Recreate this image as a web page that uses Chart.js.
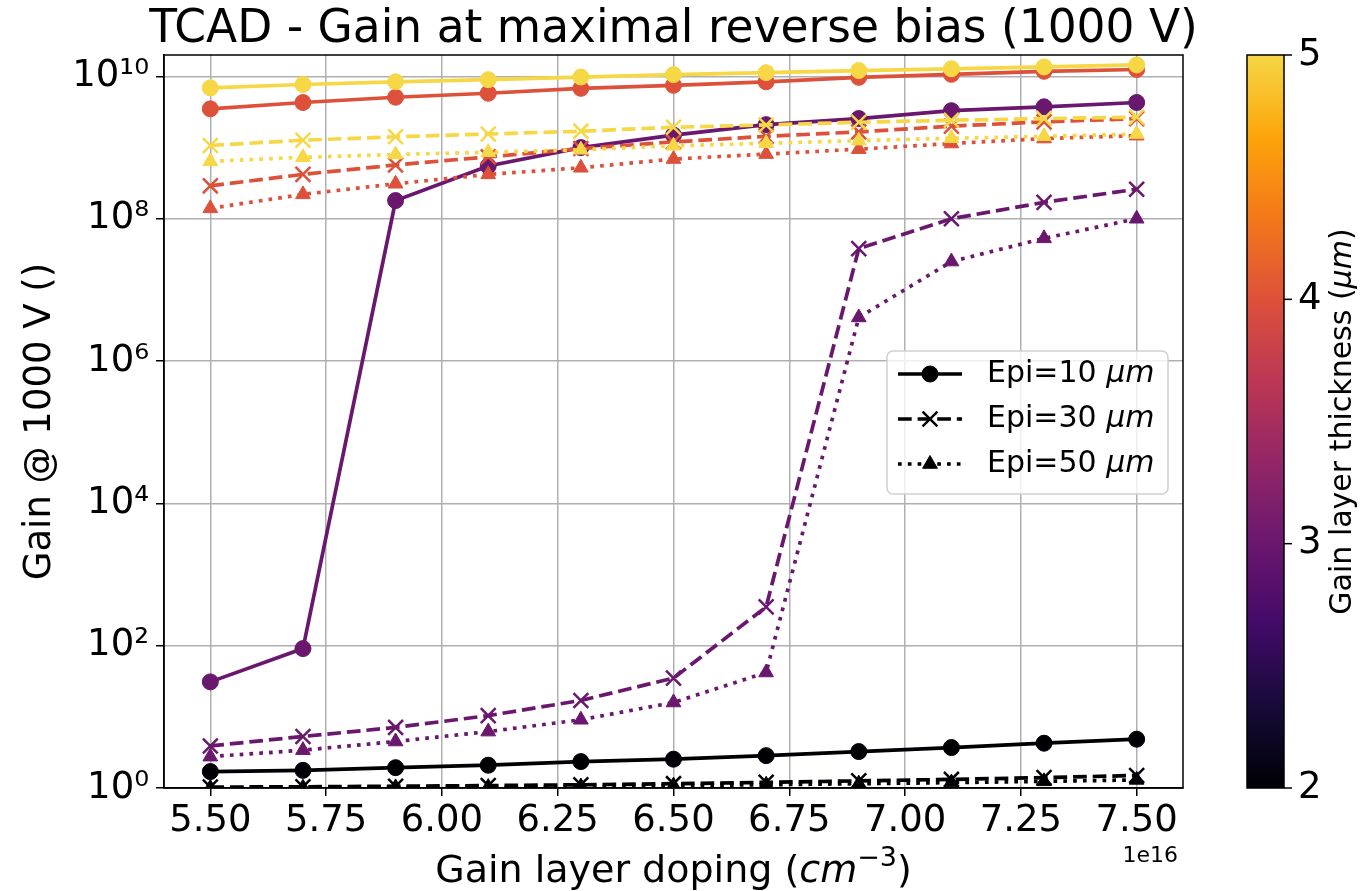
<!DOCTYPE html>
<html>
<head>
<meta charset="utf-8">
<script src="https://cdn.jsdelivr.net/npm/chart.js@4.4.1/dist/chart.umd.min.js"></script>
<style>
  html, body { margin: 0; padding: 0; background: #fff; }
</style>
</head>
<body>
<canvas id="gainChart" width="1371" height="891"></canvas>
<script>
// gain layer doping (cm^-3)
const doping = [5.5e16, 5.7e16, 5.9e16, 6.1e16, 6.3e16, 6.5e16, 6.7e16, 6.9e16, 7.1e16, 7.3e16, 7.5e16];
const xTickValues = [5.5e16, 5.75e16, 6.0e16, 6.25e16, 6.5e16, 6.75e16, 7.0e16, 7.25e16, 7.5e16];
const yTickValues = [1, 1e2, 1e4, 1e6, 1e8, 1e10];
const thicknessTicks = [2, 3, 4, 5];
const epiLegend = ['Epi=10', 'Epi=30', 'Epi=50'];

// gain @ 1000 V, per gain layer thickness (um) and epi thickness (um)
const gainT2Epi10 = [1.70, 1.77, 1.93, 2.09, 2.35, 2.54, 2.85, 3.25, 3.70, 4.26, 4.85];
const gainT2Epi30 = [1.03, 1.04, 1.06, 1.08, 1.11, 1.15, 1.20, 1.26, 1.32, 1.40, 1.50];
const gainT2Epi50 = [1.00, 1.01, 1.02, 1.03, 1.05, 1.08, 1.11, 1.15, 1.19, 1.24, 1.30];

const gainT3Epi10 = [31, 91, 1.8e8, 5.5e8, 1.0e9, 1.5e9, 2.1e9, 2.56e9, 3.3e9, 3.74e9, 4.3e9];
const gainT3Epi30 = [3.9, 5.3, 7.1, 10.4, 17, 35, 351, 3.8e7, 1.0e8, 1.7e8, 2.6e8];
const gainT3Epi50 = [2.76, 3.4, 4.5, 6.2, 9.1, 15.9, 42, 4.1e6, 2.5e7, 5.3e7, 1.0e8];

const gainT4Epi10 = [3.5e9, 4.3e9, 5.1e9, 5.8e9, 6.8e9, 7.5e9, 8.4e9, 9.7e9, 1.07e10, 1.18e10, 1.25e10];
const gainT4Epi30 = [2.9e8, 4.2e8, 5.7e8, 7.4e8, 9.7e8, 1.2e9, 1.44e9, 1.66e9, 2.0e9, 2.3e9, 2.55e9];
const gainT4Epi50 = [1.4e8, 2.2e8, 3.1e8, 4.2e8, 5.2e8, 6.9e8, 8.1e8, 9.5e8, 1.14e9, 1.34e9, 1.47e9];

const gainT5Epi10 = [6.9e9, 7.7e9, 8.4e9, 9.0e9, 9.8e9, 1.06e10, 1.13e10, 1.21e10, 1.28e10, 1.36e10, 1.45e10];
const gainT5Epi30 = [1.07e9, 1.27e9, 1.42e9, 1.55e9, 1.70e9, 1.93e9, 2.08e9, 2.27e9, 2.42e9, 2.55e9, 2.68e9];
const gainT5Epi50 = [6.4e8, 7.3e8, 8.0e8, 8.6e8, 9.3e8, 1.06e9, 1.15e9, 1.25e9, 1.35e9, 1.44e9, 1.55e9];

const series = [
  { thickness: 2, epi: 10, values: gainT2Epi10 },
  { thickness: 2, epi: 30, values: gainT2Epi30 },
  { thickness: 2, epi: 50, values: gainT2Epi50 },
  { thickness: 3, epi: 10, values: gainT3Epi10 },
  { thickness: 3, epi: 30, values: gainT3Epi30 },
  { thickness: 3, epi: 50, values: gainT3Epi50 },
  { thickness: 4, epi: 10, values: gainT4Epi10 },
  { thickness: 4, epi: 30, values: gainT4Epi30 },
  { thickness: 4, epi: 50, values: gainT4Epi50 },
  { thickness: 5, epi: 10, values: gainT5Epi10 },
  { thickness: 5, epi: 30, values: gainT5Epi30 },
  { thickness: 5, epi: 50, values: gainT5Epi50 }
];

const FONT = "'DejaVu Sans', sans-serif";
const LW = 3.7;

// inferno, cut at 0.9 (colour bar runs 2 -> 5 um)
const infernoStops = ['#000004', '#160b39', '#420a68', '#6a176e', '#932667', '#bc3754', '#dd513a', '#f37819', '#fca50a', '#f6d746'];
const thicknessColor = { 2: '#000004', 3: '#6a176e', 4: '#dd513a', 5: '#f6d746' };

const epiStyle = {
  10: { dash: [], pointStyle: 'circle', radius: 8, pointBorder: 1 },
  30: { dash: [3.7 * LW, 1.6 * LW], pointStyle: 'crossRot', radius: 10.5, pointBorder: 2.5 },
  50: { dash: [1 * LW, 1.65 * LW], pointStyle: 'triangle', radius: 8.5, pointBorder: 1 }
};

const supDigits = { '0': '⁰', '1': '¹', '2': '²', '3': '³', '4': '⁴', '5': '⁵', '6': '⁶', '7': '⁷', '8': '⁸', '9': '⁹' };
function powLabel(v) {
  const exp = Math.round(Math.log10(v));
  return '10' + String(exp).split('').map((c) => supDigits[c]).join('');
}

const datasets = series.map((s, i) => {
  const st = epiStyle[s.epi];
  const color = thicknessColor[s.thickness];
  return {
    label: `t=${s.thickness} Epi=${s.epi}`,
    data: s.values.map((v, k) => ({ x: doping[k], y: v })),
    borderColor: color,
    backgroundColor: color,
    borderWidth: LW,
    borderDash: st.dash,
    pointStyle: st.pointStyle,
    pointRadius: st.radius,
    pointBackgroundColor: color,
    pointBorderColor: color,
    pointBorderWidth: st.pointBorder,
    tension: 0,
    clip: 0,
    order: series.length - i
  };
});

function drawMarker(ctx, style, radius, x, y) {
  ctx.beginPath();
  if (style === 'circle') {
    ctx.arc(x, y, radius, 0, Math.PI * 2);
    ctx.fill();
    ctx.stroke();
  } else if (style === 'crossRot') {
    const d = Math.cos(Math.PI / 4) * radius;
    ctx.moveTo(x - d, y - d); ctx.lineTo(x + d, y + d);
    ctx.moveTo(x - d, y + d); ctx.lineTo(x + d, y - d);
    ctx.stroke();
  } else {
    let rad = 0;
    ctx.moveTo(x + Math.sin(rad) * radius, y - Math.cos(rad) * radius);
    rad += Math.PI * 2 / 3;
    ctx.lineTo(x + Math.sin(rad) * radius, y - Math.cos(rad) * radius);
    rad += Math.PI * 2 / 3;
    ctx.lineTo(x + Math.sin(rad) * radius, y - Math.cos(rad) * radius);
    ctx.closePath();
    ctx.fill();
    ctx.stroke();
  }
}

// text made of parts with their own font / vertical shift, centred on x
function drawParts(ctx, parts, x, y) {
  let total = 0;
  parts.forEach((p) => { ctx.font = p.font; p.w = ctx.measureText(p.text).width; total += p.w; });
  let cx = x - total / 2;
  ctx.textAlign = 'left';
  parts.forEach((p) => {
    ctx.font = p.font;
    ctx.fillText(p.text, cx, y + (p.dy || 0));
    cx += p.w;
  });
}

const extras = {
  id: 'extras',
  afterDraw(chart) {
    const ctx = chart.ctx;
    const a = chart.chartArea;
    const midX = (a.left + a.right) / 2;
    const midY = (a.top + a.bottom) / 2;
    ctx.save();

    // frame (all four spines)
    ctx.strokeStyle = '#000';
    ctx.lineWidth = 1.5;
    ctx.strokeRect(a.left, a.top, a.right - a.left, a.bottom - a.top);

    // title
    ctx.fillStyle = '#000';
    ctx.textBaseline = 'alphabetic';
    ctx.textAlign = 'center';
    ctx.font = `45.5px ${FONT}`;
    ctx.fillText('TCAD - Gain at maximal reverse bias (1000 V)', midX, a.top - 13);

    // x axis title
    drawParts(ctx, [
      { text: 'Gain layer doping (', font: `38px ${FONT}` },
      { text: 'cm', font: `italic 38px ${FONT}` },
      { text: '−3', font: `27px ${FONT}`, dy: -16 },
      { text: ')', font: `38px ${FONT}` }
    ], midX, a.bottom + 94);

    // offset text
    ctx.font = `22px ${FONT}`;
    ctx.textAlign = 'right';
    ctx.fillText('1e16', a.right - 5, a.bottom + 74);

    // legend
    const boxW = 281, boxH = 143;
    const bx = a.right - 15 - boxW;
    const by = midY - boxH / 2 + 1;
    ctx.beginPath();
    ctx.roundRect(bx, by, boxW, boxH, 6);
    ctx.fillStyle = 'rgba(255,255,255,0.8)';
    ctx.fill();
    ctx.strokeStyle = '#d0d0d0';
    ctx.lineWidth = 1.5;
    ctx.stroke();
    [10, 30, 50].forEach((epi, i) => {
      const st = epiStyle[epi];
      const ry = by + 23 + i * 45;
      ctx.strokeStyle = '#000';
      ctx.fillStyle = '#000';
      ctx.lineWidth = LW;
      ctx.setLineDash(st.dash);
      ctx.beginPath();
      ctx.moveTo(bx + 11, ry);
      ctx.lineTo(bx + 75, ry);
      ctx.stroke();
      ctx.setLineDash([]);
      ctx.lineWidth = st.pointBorder;
      drawMarker(ctx, st.pointStyle, st.radius, bx + 43, ry);
      ctx.textBaseline = 'middle';
      ctx.textAlign = 'left';
      ctx.font = `30px ${FONT}`;
      const t1 = epiLegend[i] + ' ';
      ctx.fillText(t1, bx + 100, ry);
      const w1 = ctx.measureText(t1).width;
      ctx.font = `italic 30px ${FONT}`;
      ctx.fillText('μm', bx + 100 + w1, ry);
    });

    // colour bar
    const cbL = a.right + 64, cbW = 37;
    const tMin = thicknessTicks[0], tMax = thicknessTicks[thicknessTicks.length - 1];
    const grad = ctx.createLinearGradient(0, a.bottom, 0, a.top);
    infernoStops.forEach((c, i) => grad.addColorStop(i / (infernoStops.length - 1), c));
    ctx.fillStyle = grad;
    ctx.fillRect(cbL, a.top, cbW, a.bottom - a.top);
    ctx.strokeStyle = '#000';
    ctx.lineWidth = 1.5;
    ctx.strokeRect(cbL, a.top, cbW, a.bottom - a.top);
    ctx.fillStyle = '#000';
    ctx.font = `37px ${FONT}`;
    ctx.textAlign = 'left';
    ctx.textBaseline = 'middle';
    thicknessTicks.forEach((t) => {
      const ty = a.bottom - (t - tMin) / (tMax - tMin) * (a.bottom - a.top);
      ctx.beginPath();
      ctx.moveTo(cbL + cbW, ty);
      ctx.lineTo(cbL + cbW + 8, ty);
      ctx.stroke();
      ctx.fillText(String(t), cbL + cbW + 14, ty);
    });
    ctx.translate(a.right + 160, midY);
    ctx.rotate(-Math.PI / 2);
    ctx.textBaseline = 'middle';
    drawParts(ctx, [
      { text: 'Gain layer thickness (', font: `30px ${FONT}` },
      { text: 'μm', font: `italic 30px ${FONT}` },
      { text: ')', font: `30px ${FONT}` }
    ], 0, 0);

    ctx.restore();
  }
};

new Chart(document.getElementById('gainChart'), {
  type: 'line',
  data: { datasets },
  plugins: [extras],
  options: {
    responsive: false,
    animation: false,
    devicePixelRatio: 1,
    layout: { padding: { top: 55, right: 188, bottom: 0, left: 0 } },
    plugins: { legend: { display: false }, title: { display: false }, tooltip: { enabled: false } },
    scales: {
      x: {
        type: 'linear',
        min: 5.4e16,
        max: 7.6e16,
        afterBuildTicks: (scale) => { scale.ticks = xTickValues.map((v) => ({ value: v })); },
        afterFit: (scale) => { scale.height = 103; },
        ticks: {
          color: '#000',
          font: { family: FONT, size: 37 },
          padding: 3,
          maxRotation: 0,
          autoSkip: false,
          callback: (v) => (v / 1e16).toFixed(2)
        },
        grid: { color: '#b0b0b0', lineWidth: 1.5, tickColor: '#000', tickLength: 8, tickWidth: 1.5 },
        border: { color: '#000', width: 1.5 }
      },
      y: {
        type: 'logarithmic',
        min: 1,
        max: 2e10,
        afterBuildTicks: (scale) => { scale.ticks = yTickValues.map((v) => ({ value: v })); },
        afterFit: (scale) => { scale.width = 164; },
        ticks: {
          color: '#000',
          font: { family: FONT, size: 37 },
          padding: 7,
          autoSkip: false,
          callback: (v) => powLabel(v)
        },
        grid: { color: '#b0b0b0', lineWidth: 1.5, tickColor: '#000', tickLength: 8, tickWidth: 1.5 },
        border: { color: '#000', width: 1.5 },
        title: {
          display: true,
          text: 'Gain @ 1000 V ()',
          color: '#000',
          font: { family: FONT, size: 37 },
          padding: { top: 18, bottom: 0 }
        }
      }
    }
  }
});
</script>
</body>
</html>
